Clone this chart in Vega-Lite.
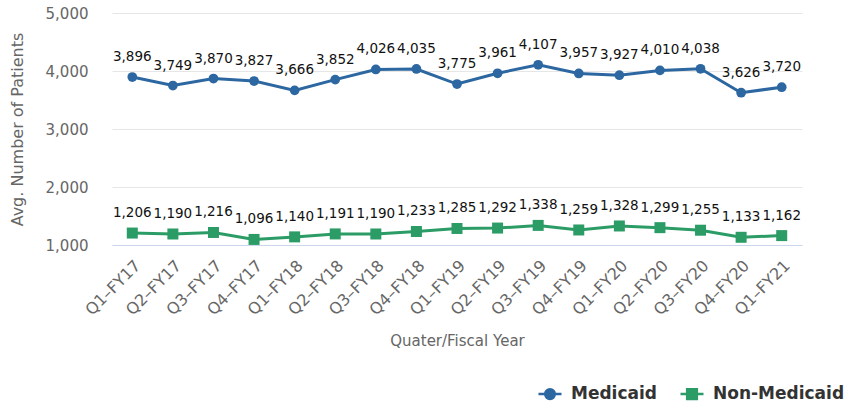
{
  "$schema": "https://vega.github.io/schema/vega-lite/v6.json",
  "autosize": "none",
  "width": 690,
  "height": 232,
  "padding": {"left": 112, "top": 13, "right": 55, "bottom": 162},
  "background": "white",
  "config": {
    "font": "DejaVu Sans",
    "view": {"stroke": null}
  },
  "data": {
    "values": [
      {"q": "Q1–FY17", "s": "Medicaid", "v": 3896}, {"q": "Q2–FY17", "s": "Medicaid", "v": 3749},
      {"q": "Q3–FY17", "s": "Medicaid", "v": 3870}, {"q": "Q4–FY17", "s": "Medicaid", "v": 3827},
      {"q": "Q1–FY18", "s": "Medicaid", "v": 3666}, {"q": "Q2–FY18", "s": "Medicaid", "v": 3852},
      {"q": "Q3–FY18", "s": "Medicaid", "v": 4026}, {"q": "Q4–FY18", "s": "Medicaid", "v": 4035},
      {"q": "Q1–FY19", "s": "Medicaid", "v": 3775}, {"q": "Q2–FY19", "s": "Medicaid", "v": 3961},
      {"q": "Q3–FY19", "s": "Medicaid", "v": 4107}, {"q": "Q4–FY19", "s": "Medicaid", "v": 3957},
      {"q": "Q1–FY20", "s": "Medicaid", "v": 3927}, {"q": "Q2–FY20", "s": "Medicaid", "v": 4010},
      {"q": "Q3–FY20", "s": "Medicaid", "v": 4038}, {"q": "Q4–FY20", "s": "Medicaid", "v": 3626},
      {"q": "Q1–FY21", "s": "Medicaid", "v": 3720},
      {"q": "Q1–FY17", "s": "Non-Medicaid", "v": 1206}, {"q": "Q2–FY17", "s": "Non-Medicaid", "v": 1190},
      {"q": "Q3–FY17", "s": "Non-Medicaid", "v": 1216}, {"q": "Q4–FY17", "s": "Non-Medicaid", "v": 1096},
      {"q": "Q1–FY18", "s": "Non-Medicaid", "v": 1140}, {"q": "Q2–FY18", "s": "Non-Medicaid", "v": 1191},
      {"q": "Q3–FY18", "s": "Non-Medicaid", "v": 1190}, {"q": "Q4–FY18", "s": "Non-Medicaid", "v": 1233},
      {"q": "Q1–FY19", "s": "Non-Medicaid", "v": 1285}, {"q": "Q2–FY19", "s": "Non-Medicaid", "v": 1292},
      {"q": "Q3–FY19", "s": "Non-Medicaid", "v": 1338}, {"q": "Q4–FY19", "s": "Non-Medicaid", "v": 1259},
      {"q": "Q1–FY20", "s": "Non-Medicaid", "v": 1328}, {"q": "Q2–FY20", "s": "Non-Medicaid", "v": 1299},
      {"q": "Q3–FY20", "s": "Non-Medicaid", "v": 1255}, {"q": "Q4–FY20", "s": "Non-Medicaid", "v": 1133},
      {"q": "Q1–FY21", "s": "Non-Medicaid", "v": 1162}
    ]
  },
  "encoding": {
    "x": {
      "field": "q", "type": "ordinal", "sort": null,
      "scale": {"type": "band", "paddingInner": 0, "paddingOuter": 0},
      "axis": {
        "title": "Quater/Fiscal Year", "titleFont": "DejaVu Sans", "titleFontSize": 15, "titleFontWeight": "normal",
        "titleColor": "#666666", "titlePadding": 16,
        "labelAngle": -45, "labelFontSize": 16, "labelColor": "#666666", "labelPadding": 12,
        "ticks": false, "grid": false, "domainColor": "#ccd6eb", "domainWidth": 1
      }
    },
    "y": {
      "field": "v", "type": "quantitative",
      "scale": {"domain": [1000, 5000], "nice": false, "zero": false},
      "axis": {
        "title": "Avg. Number of Patients", "titleFontSize": 16, "titleFontWeight": "normal", "titleColor": "#666666",
        "titlePadding": 20,
        "values": [1000, 2000, 3000, 4000, 5000], "format": ",.0f",
        "labelFontSize": 15, "labelColor": "#666666", "labelPadding": 24,
        "ticks": false, "domain": false, "gridColor": "#e6e6e6", "gridWidth": 1
      }
    },
    "color": {
      "field": "s", "type": "nominal",
      "scale": {"domain": ["Medicaid", "Non-Medicaid"], "range": ["#2c67a1", "#2b9c66"]},
      "legend": {
        "title": null, "orient": "none", "direction": "horizontal",
        "legendX": 425, "legendY": 368,
        "labelFontSize": 17, "labelFontWeight": "bold", "labelColor": "#333333",
        "symbolSize": 529, "symbolStrokeWidth": 2.5, "symbolOpacity": 1,
        "columnPadding": 18, "labelOffset": 8,
        "encode": {
          "symbols": {
            "update": {
              "shape": {"signal": "datum.value === 'Medicaid' ? 'M-1,0L1,0M0.42,0A0.42,0.42,0,1,1,-0.42,0A0.42,0.42,0,1,1,0.42,0Z' : 'M-1,0L1,0M-0.42,-0.42L0.42,-0.42L0.42,0.42L-0.42,0.42Z'"},
              "fill": {"signal": "datum.value === 'Medicaid' ? '#2c67a1' : '#2b9c66'"},
              "stroke": {"signal": "datum.value === 'Medicaid' ? '#2c67a1' : '#2b9c66'"},
              "opacity": {"value": 1}
            }
          }
        }
      }
    }
  },
  "layer": [
    {"mark": {"type": "line", "strokeWidth": 3}},
    {
      "transform": [{"filter": "datum.s === 'Medicaid'"}],
      "mark": {"type": "point", "filled": true, "opacity": 1, "shape": "circle", "size": 95}
    },
    {
      "transform": [{"filter": "datum.s === 'Non-Medicaid'"}],
      "mark": {"type": "point", "filled": true, "opacity": 1, "shape": "square", "size": 121}
    },
    {
      "mark": {"type": "text", "dy": -20, "fontSize": 13.5},
      "encoding": {"text": {"field": "v", "type": "quantitative", "format": ","}, "color": {"value": "#111111"}}
    }
  ]
}
